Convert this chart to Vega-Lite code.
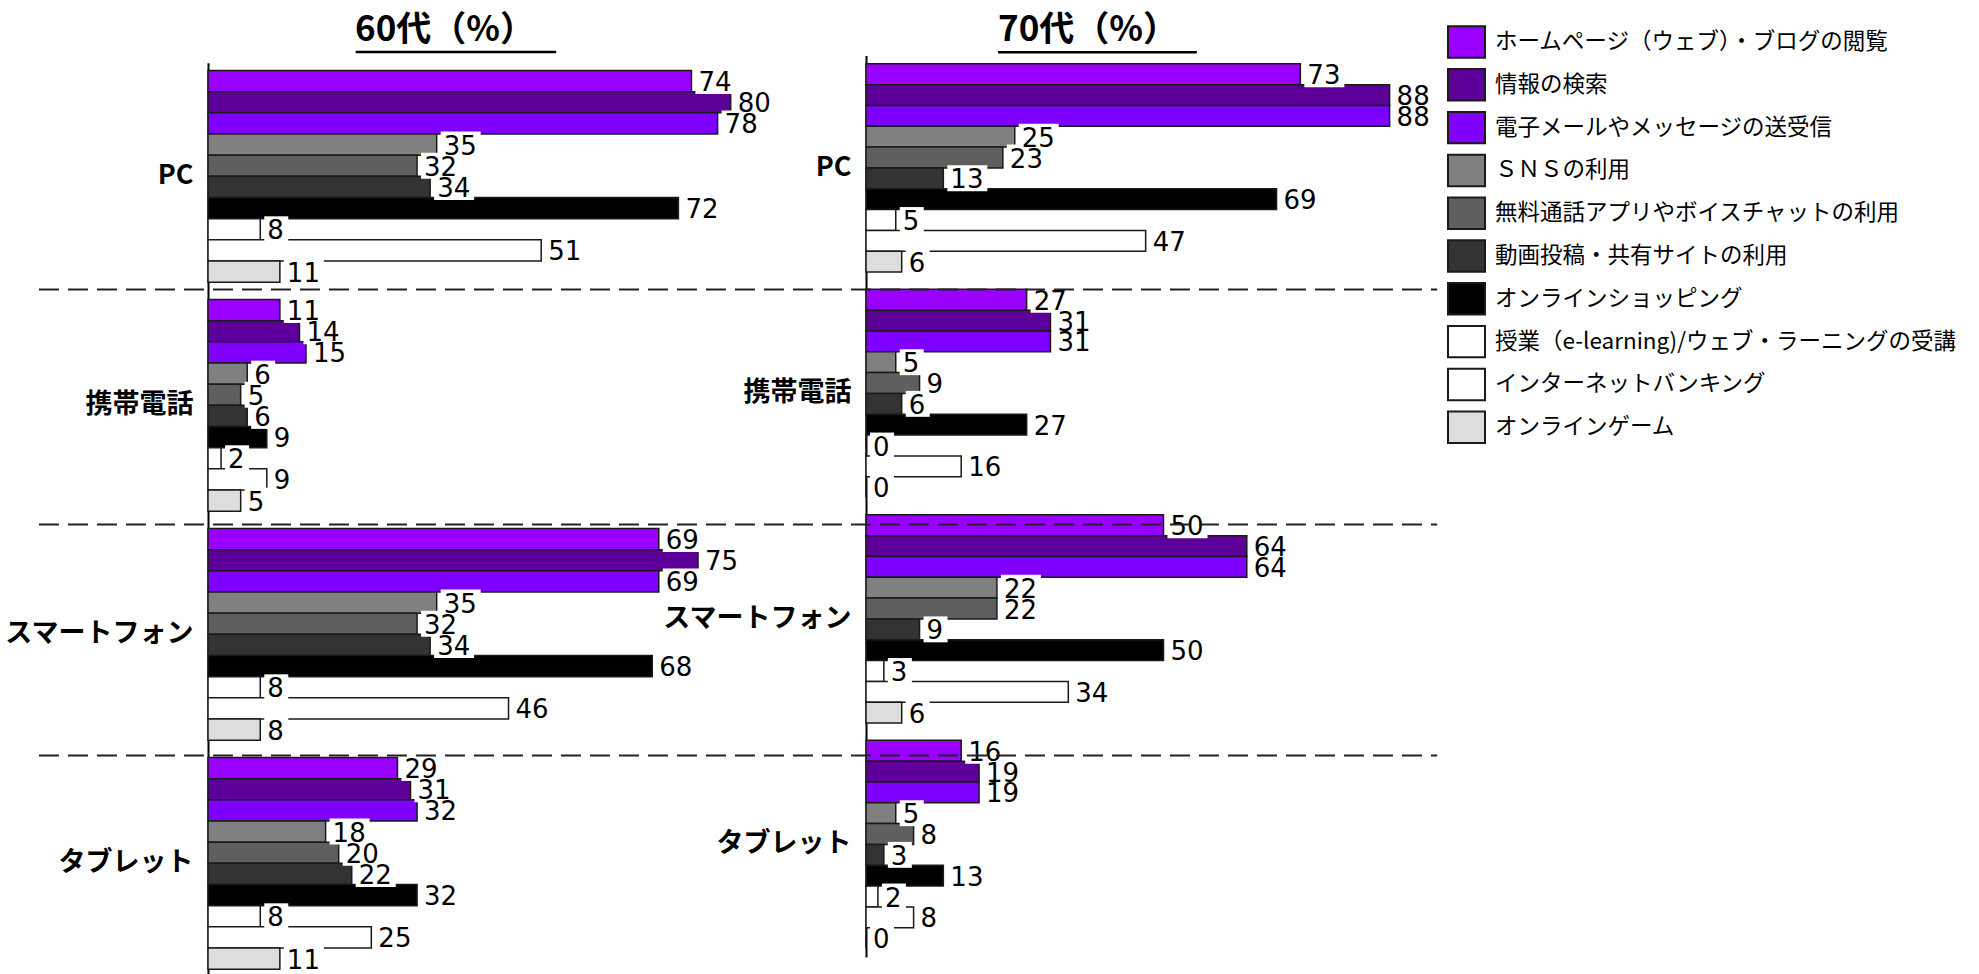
{
  "$schema": "https://vega.github.io/schema/vega-lite/v6.json",
  "background": "white",
  "padding": {"left": 4, "top": 12.5, "right": 0, "bottom": 0},
  "bounds": "flush",
  "spacing": 70,
  "datasets": {
    "d": [
      {"age": "60代", "device": "PC", "item": "ホームページ（ウェブ）・ブログの閲覧", "value": 74},
      {"age": "60代", "device": "PC", "item": "情報の検索", "value": 80},
      {"age": "60代", "device": "PC", "item": "電子メールやメッセージの送受信", "value": 78},
      {"age": "60代", "device": "PC", "item": "ＳＮＳの利用", "value": 35},
      {"age": "60代", "device": "PC", "item": "無料通話アプリやボイスチャットの利用", "value": 32},
      {"age": "60代", "device": "PC", "item": "動画投稿・共有サイトの利用", "value": 34},
      {"age": "60代", "device": "PC", "item": "オンラインショッピング", "value": 72},
      {"age": "60代", "device": "PC", "item": "授業（e-learning)/ウェブ・ラーニングの受講", "value": 8},
      {"age": "60代", "device": "PC", "item": "インターネットバンキング", "value": 51},
      {"age": "60代", "device": "PC", "item": "オンラインゲーム", "value": 11},
      {"age": "60代", "device": "携帯電話", "item": "ホームページ（ウェブ）・ブログの閲覧", "value": 11},
      {"age": "60代", "device": "携帯電話", "item": "情報の検索", "value": 14},
      {"age": "60代", "device": "携帯電話", "item": "電子メールやメッセージの送受信", "value": 15},
      {"age": "60代", "device": "携帯電話", "item": "ＳＮＳの利用", "value": 6},
      {"age": "60代", "device": "携帯電話", "item": "無料通話アプリやボイスチャットの利用", "value": 5},
      {"age": "60代", "device": "携帯電話", "item": "動画投稿・共有サイトの利用", "value": 6},
      {"age": "60代", "device": "携帯電話", "item": "オンラインショッピング", "value": 9},
      {"age": "60代", "device": "携帯電話", "item": "授業（e-learning)/ウェブ・ラーニングの受講", "value": 2},
      {"age": "60代", "device": "携帯電話", "item": "インターネットバンキング", "value": 9},
      {"age": "60代", "device": "携帯電話", "item": "オンラインゲーム", "value": 5},
      {"age": "60代", "device": "スマートフォン", "item": "ホームページ（ウェブ）・ブログの閲覧", "value": 69},
      {"age": "60代", "device": "スマートフォン", "item": "情報の検索", "value": 75},
      {"age": "60代", "device": "スマートフォン", "item": "電子メールやメッセージの送受信", "value": 69},
      {"age": "60代", "device": "スマートフォン", "item": "ＳＮＳの利用", "value": 35},
      {"age": "60代", "device": "スマートフォン", "item": "無料通話アプリやボイスチャットの利用", "value": 32},
      {"age": "60代", "device": "スマートフォン", "item": "動画投稿・共有サイトの利用", "value": 34},
      {"age": "60代", "device": "スマートフォン", "item": "オンラインショッピング", "value": 68},
      {"age": "60代", "device": "スマートフォン", "item": "授業（e-learning)/ウェブ・ラーニングの受講", "value": 8},
      {"age": "60代", "device": "スマートフォン", "item": "インターネットバンキング", "value": 46},
      {"age": "60代", "device": "スマートフォン", "item": "オンラインゲーム", "value": 8},
      {"age": "60代", "device": "タブレット", "item": "ホームページ（ウェブ）・ブログの閲覧", "value": 29},
      {"age": "60代", "device": "タブレット", "item": "情報の検索", "value": 31},
      {"age": "60代", "device": "タブレット", "item": "電子メールやメッセージの送受信", "value": 32},
      {"age": "60代", "device": "タブレット", "item": "ＳＮＳの利用", "value": 18},
      {"age": "60代", "device": "タブレット", "item": "無料通話アプリやボイスチャットの利用", "value": 20},
      {"age": "60代", "device": "タブレット", "item": "動画投稿・共有サイトの利用", "value": 22},
      {"age": "60代", "device": "タブレット", "item": "オンラインショッピング", "value": 32},
      {"age": "60代", "device": "タブレット", "item": "授業（e-learning)/ウェブ・ラーニングの受講", "value": 8},
      {"age": "60代", "device": "タブレット", "item": "インターネットバンキング", "value": 25},
      {"age": "60代", "device": "タブレット", "item": "オンラインゲーム", "value": 11},
      {"age": "70代", "device": "PC", "item": "ホームページ（ウェブ）・ブログの閲覧", "value": 73},
      {"age": "70代", "device": "PC", "item": "情報の検索", "value": 88},
      {"age": "70代", "device": "PC", "item": "電子メールやメッセージの送受信", "value": 88},
      {"age": "70代", "device": "PC", "item": "ＳＮＳの利用", "value": 25},
      {"age": "70代", "device": "PC", "item": "無料通話アプリやボイスチャットの利用", "value": 23},
      {"age": "70代", "device": "PC", "item": "動画投稿・共有サイトの利用", "value": 13},
      {"age": "70代", "device": "PC", "item": "オンラインショッピング", "value": 69},
      {"age": "70代", "device": "PC", "item": "授業（e-learning)/ウェブ・ラーニングの受講", "value": 5},
      {"age": "70代", "device": "PC", "item": "インターネットバンキング", "value": 47},
      {"age": "70代", "device": "PC", "item": "オンラインゲーム", "value": 6},
      {"age": "70代", "device": "携帯電話", "item": "ホームページ（ウェブ）・ブログの閲覧", "value": 27},
      {"age": "70代", "device": "携帯電話", "item": "情報の検索", "value": 31},
      {"age": "70代", "device": "携帯電話", "item": "電子メールやメッセージの送受信", "value": 31},
      {"age": "70代", "device": "携帯電話", "item": "ＳＮＳの利用", "value": 5},
      {"age": "70代", "device": "携帯電話", "item": "無料通話アプリやボイスチャットの利用", "value": 9},
      {"age": "70代", "device": "携帯電話", "item": "動画投稿・共有サイトの利用", "value": 6},
      {"age": "70代", "device": "携帯電話", "item": "オンラインショッピング", "value": 27},
      {"age": "70代", "device": "携帯電話", "item": "授業（e-learning)/ウェブ・ラーニングの受講", "value": 0},
      {"age": "70代", "device": "携帯電話", "item": "インターネットバンキング", "value": 16},
      {"age": "70代", "device": "携帯電話", "item": "オンラインゲーム", "value": 0},
      {"age": "70代", "device": "スマートフォン", "item": "ホームページ（ウェブ）・ブログの閲覧", "value": 50},
      {"age": "70代", "device": "スマートフォン", "item": "情報の検索", "value": 64},
      {"age": "70代", "device": "スマートフォン", "item": "電子メールやメッセージの送受信", "value": 64},
      {"age": "70代", "device": "スマートフォン", "item": "ＳＮＳの利用", "value": 22},
      {"age": "70代", "device": "スマートフォン", "item": "無料通話アプリやボイスチャットの利用", "value": 22},
      {"age": "70代", "device": "スマートフォン", "item": "動画投稿・共有サイトの利用", "value": 9},
      {"age": "70代", "device": "スマートフォン", "item": "オンラインショッピング", "value": 50},
      {"age": "70代", "device": "スマートフォン", "item": "授業（e-learning)/ウェブ・ラーニングの受講", "value": 3},
      {"age": "70代", "device": "スマートフォン", "item": "インターネットバンキング", "value": 34},
      {"age": "70代", "device": "スマートフォン", "item": "オンラインゲーム", "value": 6},
      {"age": "70代", "device": "タブレット", "item": "ホームページ（ウェブ）・ブログの閲覧", "value": 16},
      {"age": "70代", "device": "タブレット", "item": "情報の検索", "value": 19},
      {"age": "70代", "device": "タブレット", "item": "電子メールやメッセージの送受信", "value": 19},
      {"age": "70代", "device": "タブレット", "item": "ＳＮＳの利用", "value": 5},
      {"age": "70代", "device": "タブレット", "item": "無料通話アプリやボイスチャットの利用", "value": 8},
      {"age": "70代", "device": "タブレット", "item": "動画投稿・共有サイトの利用", "value": 3},
      {"age": "70代", "device": "タブレット", "item": "オンラインショッピング", "value": 13},
      {"age": "70代", "device": "タブレット", "item": "授業（e-learning)/ウェブ・ラーニングの受講", "value": 2},
      {"age": "70代", "device": "タブレット", "item": "インターネットバンキング", "value": 8},
      {"age": "70代", "device": "タブレット", "item": "オンラインゲーム", "value": 0}
    ],
    "sep": [
      {"device": "PC"},
      {"device": "携帯電話"},
      {"device": "スマートフォン"}
    ]
  },
  "resolve": {"scale": {"x": "independent", "y": "independent", "yOffset": "independent", "color": "shared"}},
  "hconcat": [
    {
      "width": 588,
      "height": 921.4,
      "title": {"text": "60代（%）", "anchor": "start", "frame": "group", "dx": 147, "offset": 3, "fontSize": 35, "fontWeight": "bold", "font": "Noto Sans CJK JP", "color": "#000000"},
      "data": {"name": "d"},
      "layer": [
        {
          "transform": [{"filter": "datum.age === '60代'"}],
          "mark": {"type": "bar", "stroke": "#1a1a1a", "strokeWidth": 1.5},
          "encoding": {
            "y": {"field": "device", "type": "nominal", "sort": ["PC", "携帯電話", "スマートフォン", "タブレット"], "scale": {"range": [7.3, 921.4], "paddingInner": 0.0755, "paddingOuter": 0.0336}, "axis": {"title": null, "ticks": false, "grid": false, "domainColor": "#000000", "domainWidth": 2, "labelFont": "Noto Sans CJK JP", "labelFontWeight": "bold", "labelFontSize": 27, "labelColor": "#000000", "labelPadding": 15, "labelLimit": 400}},
            "yOffset": {"field": "item", "type": "nominal", "sort": ["ホームページ（ウェブ）・ブログの閲覧", "情報の検索", "電子メールやメッセージの送受信", "ＳＮＳの利用", "無料通話アプリやボイスチャットの利用", "動画投稿・共有サイトの利用", "オンラインショッピング", "授業（e-learning)/ウェブ・ラーニングの受講", "インターネットバンキング", "オンラインゲーム"], "scale": {"paddingInner": 0, "paddingOuter": 0}},
            "x": {"field": "value", "type": "quantitative", "scale": {"domain": [0, 90], "nice": false}, "axis": null},
            "color": {"field": "item", "type": "nominal", "scale": {"domain": ["ホームページ（ウェブ）・ブログの閲覧", "情報の検索", "電子メールやメッセージの送受信", "ＳＮＳの利用", "無料通話アプリやボイスチャットの利用", "動画投稿・共有サイトの利用", "オンラインショッピング", "授業（e-learning)/ウェブ・ラーニングの受講", "インターネットバンキング", "オンラインゲーム"], "range": ["#9900FF", "#5C0099", "#7F00FF", "#808080", "#5F5F5F", "#333333", "#000000", "#FFFFFF", "#FFFFFF", "#DDDDDD"]}, "legend": {"orient": "none", "legendX": 1239, "legendY": -33, "title": null, "symbolType": "M-1,-0.85H1V0.85H-1Z", "symbolSize": 1369, "symbolStrokeColor": "#1a1a1a", "symbolStrokeWidth": 2, "symbolOpacity": 1, "labelFont": "Noto Sans CJK JP", "labelFontSize": 22.5, "labelColor": "#000000", "labelLimit": 1000, "labelOffset": 9, "rowPadding": 1.8, "padding": 0}}
          }
        },
        {
          "transform": [{"filter": "datum.age === '60代' && datum.value < 10"}],
          "mark": {"type": "point", "shape": "M-1,-1.08H1V1.08H-1Z", "size": 576, "filled": true, "color": "#FFFFFF", "opacity": 1, "strokeWidth": 0, "xOffset": 16, "yOffset": 2},
          "encoding": {
            "y": {"field": "device", "type": "nominal", "sort": ["PC", "携帯電話", "スマートフォン", "タブレット"]},
            "yOffset": {"field": "item", "type": "nominal", "sort": ["ホームページ（ウェブ）・ブログの閲覧", "情報の検索", "電子メールやメッセージの送受信", "ＳＮＳの利用", "無料通話アプリやボイスチャットの利用", "動画投稿・共有サイトの利用", "オンラインショッピング", "授業（e-learning)/ウェブ・ラーニングの受講", "インターネットバンキング", "オンラインゲーム"]},
            "x": {"field": "value", "type": "quantitative"}
          }
        },
        {
          "transform": [{"filter": "datum.age === '60代' && datum.value >= 10"}],
          "mark": {"type": "point", "shape": "M-1,-0.65H1V0.65H-1Z", "size": 1600, "filled": true, "color": "#FFFFFF", "opacity": 1, "strokeWidth": 0, "xOffset": 24, "yOffset": 2},
          "encoding": {
            "y": {"field": "device", "type": "nominal", "sort": ["PC", "携帯電話", "スマートフォン", "タブレット"]},
            "yOffset": {"field": "item", "type": "nominal", "sort": ["ホームページ（ウェブ）・ブログの閲覧", "情報の検索", "電子メールやメッセージの送受信", "ＳＮＳの利用", "無料通話アプリやボイスチャットの利用", "動画投稿・共有サイトの利用", "オンラインショッピング", "授業（e-learning)/ウェブ・ラーニングの受講", "インターネットバンキング", "オンラインゲーム"]},
            "x": {"field": "value", "type": "quantitative"}
          }
        },
        {
          "transform": [{"filter": "datum.age === '60代'"}],
          "mark": {"type": "text", "align": "left", "baseline": "middle", "dx": 7, "dy": 2, "font": "DejaVu Sans", "fontSize": 26, "color": "#000000"},
          "encoding": {
            "y": {"field": "device", "type": "nominal", "sort": ["PC", "携帯電話", "スマートフォン", "タブレット"]},
            "yOffset": {"field": "item", "type": "nominal", "sort": ["ホームページ（ウェブ）・ブログの閲覧", "情報の検索", "電子メールやメッセージの送受信", "ＳＮＳの利用", "無料通話アプリやボイスチャットの利用", "動画投稿・共有サイトの利用", "オンラインショッピング", "授業（e-learning)/ウェブ・ラーニングの受講", "インターネットバンキング", "オンラインゲーム"]},
            "x": {"field": "value", "type": "quantitative"},
            "text": {"field": "value", "type": "quantitative"}
          }
        },
        {
          "data": {"name": "sep"},
          "transform": [{"filter": "datum.device === 'PC'"}],
          "mark": {"type": "rule", "strokeWidth": 2.5, "color": "#000000"},
          "encoding": {
            "y": {"field": "device", "type": "nominal", "sort": ["PC", "携帯電話", "スマートフォン", "タブレット"], "bandPosition": -0.0869},
            "x": {"datum": 22.6},
            "x2": {"datum": 53.3}
          }
        }
      ]
    },
    {
      "width": 535.5,
      "height": 901.4,
      "title": {"text": "70代（%）", "anchor": "start", "frame": "group", "dx": 132, "offset": 3, "fontSize": 35, "fontWeight": "bold", "font": "Noto Sans CJK JP", "color": "#000000"},
      "data": {"name": "d"},
      "layer": [
        {
          "transform": [{"filter": "datum.age === '70代'"}],
          "mark": {"type": "bar", "stroke": "#1a1a1a", "strokeWidth": 1.5},
          "encoding": {
            "y": {"field": "device", "type": "nominal", "sort": ["PC", "携帯電話", "スマートフォン", "タブレット"], "scale": {"paddingInner": 0.0763, "paddingOuter": 0.0368}, "axis": {"title": null, "ticks": false, "grid": false, "domainColor": "#000000", "domainWidth": 2, "labelFont": "Noto Sans CJK JP", "labelFontWeight": "bold", "labelFontSize": 27, "labelColor": "#000000", "labelPadding": 15, "labelLimit": 400}},
            "yOffset": {"field": "item", "type": "nominal", "sort": ["ホームページ（ウェブ）・ブログの閲覧", "情報の検索", "電子メールやメッセージの送受信", "ＳＮＳの利用", "無料通話アプリやボイスチャットの利用", "動画投稿・共有サイトの利用", "オンラインショッピング", "授業（e-learning)/ウェブ・ラーニングの受講", "インターネットバンキング", "オンラインゲーム"], "scale": {"paddingInner": 0, "paddingOuter": 0}},
            "x": {"field": "value", "type": "quantitative", "scale": {"domain": [0, 90], "nice": false}, "axis": null},
            "color": {"field": "item", "type": "nominal", "legend": {"orient": "none", "legendX": 1239, "legendY": -33, "title": null, "symbolType": "M-1,-0.85H1V0.85H-1Z", "symbolSize": 1369, "symbolStrokeColor": "#1a1a1a", "symbolStrokeWidth": 2, "symbolOpacity": 1, "labelFont": "Noto Sans CJK JP", "labelFontSize": 22.5, "labelColor": "#000000", "labelLimit": 1000, "labelOffset": 9, "rowPadding": 1.8, "padding": 0}}
          }
        },
        {
          "transform": [{"filter": "datum.age === '70代' && datum.value < 10"}],
          "mark": {"type": "point", "shape": "M-1,-1.08H1V1.08H-1Z", "size": 576, "filled": true, "color": "#FFFFFF", "opacity": 1, "strokeWidth": 0, "xOffset": 16, "yOffset": 2},
          "encoding": {
            "y": {"field": "device", "type": "nominal", "sort": ["PC", "携帯電話", "スマートフォン", "タブレット"]},
            "yOffset": {"field": "item", "type": "nominal", "sort": ["ホームページ（ウェブ）・ブログの閲覧", "情報の検索", "電子メールやメッセージの送受信", "ＳＮＳの利用", "無料通話アプリやボイスチャットの利用", "動画投稿・共有サイトの利用", "オンラインショッピング", "授業（e-learning)/ウェブ・ラーニングの受講", "インターネットバンキング", "オンラインゲーム"]},
            "x": {"field": "value", "type": "quantitative"}
          }
        },
        {
          "transform": [{"filter": "datum.age === '70代' && datum.value >= 10"}],
          "mark": {"type": "point", "shape": "M-1,-0.65H1V0.65H-1Z", "size": 1600, "filled": true, "color": "#FFFFFF", "opacity": 1, "strokeWidth": 0, "xOffset": 24, "yOffset": 2},
          "encoding": {
            "y": {"field": "device", "type": "nominal", "sort": ["PC", "携帯電話", "スマートフォン", "タブレット"]},
            "yOffset": {"field": "item", "type": "nominal", "sort": ["ホームページ（ウェブ）・ブログの閲覧", "情報の検索", "電子メールやメッセージの送受信", "ＳＮＳの利用", "無料通話アプリやボイスチャットの利用", "動画投稿・共有サイトの利用", "オンラインショッピング", "授業（e-learning)/ウェブ・ラーニングの受講", "インターネットバンキング", "オンラインゲーム"]},
            "x": {"field": "value", "type": "quantitative"}
          }
        },
        {
          "transform": [{"filter": "datum.age === '70代'"}],
          "mark": {"type": "text", "align": "left", "baseline": "middle", "dx": 7, "dy": 2, "font": "DejaVu Sans", "fontSize": 26, "color": "#000000"},
          "encoding": {
            "y": {"field": "device", "type": "nominal", "sort": ["PC", "携帯電話", "スマートフォン", "タブレット"]},
            "yOffset": {"field": "item", "type": "nominal", "sort": ["ホームページ（ウェブ）・ブログの閲覧", "情報の検索", "電子メールやメッセージの送受信", "ＳＮＳの利用", "無料通話アプリやボイスチャットの利用", "動画投稿・共有サイトの利用", "オンラインショッピング", "授業（e-learning)/ウェブ・ラーニングの受講", "インターネットバンキング", "オンラインゲーム"]},
            "x": {"field": "value", "type": "quantitative"},
            "text": {"field": "value", "type": "quantitative"}
          }
        },
        {
          "data": {"name": "sep"},
          "transform": [{"filter": "datum.device === 'PC'"}],
          "mark": {"type": "rule", "strokeWidth": 2.5, "color": "#000000"},
          "encoding": {
            "y": {"field": "device", "type": "nominal", "sort": ["PC", "携帯電話", "スマートフォン", "タブレット"], "bandPosition": -0.056},
            "x": {"datum": 22.2},
            "x2": {"datum": 55.6}
          }
        },
        {
          "data": {"name": "sep"},
          "transform": [{"filter": "datum.device === 'PC'"}],
          "mark": {"type": "rule", "strokeDash": [20, 9], "strokeWidth": 2, "color": "#222222"},
          "encoding": {
            "y": {"field": "device", "type": "nominal", "sort": ["PC", "携帯電話", "スマートフォン", "タブレット"], "bandPosition": 1.0835},
            "x": {"datum": -139},
            "x2": {"datum": 96}
          }
        },
        {
          "data": {"name": "sep"},
          "transform": [{"filter": "datum.device === '携帯電話'"}],
          "mark": {"type": "rule", "strokeDash": [20, 9], "strokeWidth": 2, "color": "#222222"},
          "encoding": {
            "y": {"field": "device", "type": "nominal", "sort": ["PC", "携帯電話", "スマートフォン", "タブレット"], "bandPosition": 1.129},
            "x": {"datum": -139},
            "x2": {"datum": 96}
          }
        },
        {
          "data": {"name": "sep"},
          "transform": [{"filter": "datum.device === 'スマートフォン'"}],
          "mark": {"type": "rule", "strokeDash": [20, 9], "strokeWidth": 2, "color": "#222222"},
          "encoding": {
            "y": {"field": "device", "type": "nominal", "sort": ["PC", "携帯電話", "スマートフォン", "タブレット"], "bandPosition": 1.1556},
            "x": {"datum": -139},
            "x2": {"datum": 96}
          }
        }
      ]
    }
  ],
  "config": {
    "view": {"stroke": null},
    "font": "Noto Sans CJK JP"
  }
}
